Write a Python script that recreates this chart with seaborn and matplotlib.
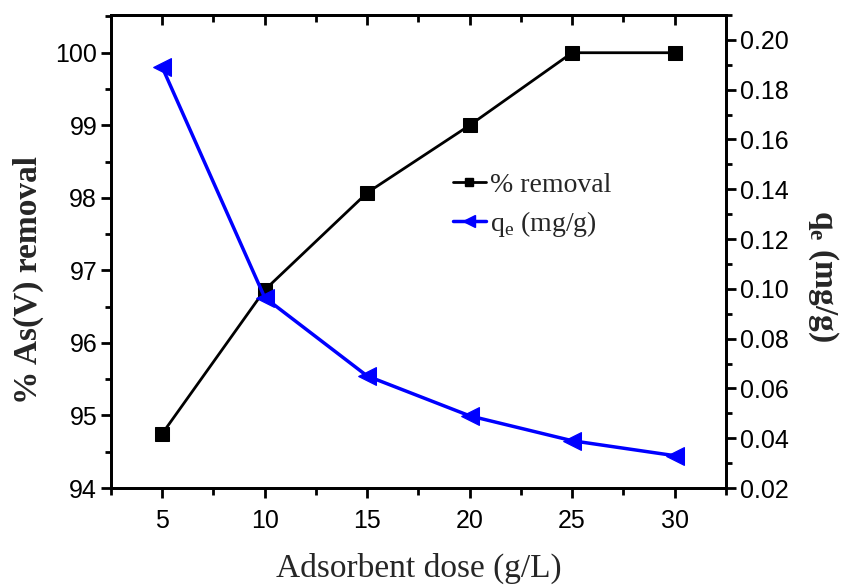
import numpy as np
import pandas as pd
import matplotlib
matplotlib.use("Agg")
import matplotlib.pyplot as plt
from matplotlib.ticker import MultipleLocator
from matplotlib.lines import Line2D
import seaborn as sns

# Adsorbent dose study data
dose = [5, 10, 15, 20, 25, 30]
removal = [94.75, 96.73, 98.07, 99.0, 100.0, 100.0]
qe = [0.189, 0.0965, 0.065, 0.049, 0.039, 0.033]

x_ticks = [5, 10, 15, 20, 25, 30]
left_ticks = [94, 95, 96, 97, 98, 99, 100]
right_ticks = [0.02, 0.04, 0.06, 0.08, 0.10, 0.12, 0.14, 0.16, 0.18, 0.20]

df = pd.DataFrame({"dose": dose, "removal": removal, "qe": qe})

sns.set_theme(style="ticks")
plt.rcParams["font.family"] = ["Liberation Sans", "DejaVu Sans"]

fig = plt.figure(figsize=(8.43, 5.86), dpi=100)
ax = fig.add_axes([0.1317, 0.1672, 0.7293, 0.8072])
ax2 = ax.twinx()

sns.lineplot(data=df, x="dose", y="removal", ax=ax, color="black", marker="s",
             markersize=10.5, markeredgecolor="black", linewidth=2, legend=False)
sns.lineplot(data=df, x="dose", y="qe", ax=ax2, color="#0000ff", marker="<",
             markersize=13, markeredgecolor="#0000ff", linewidth=2.5, legend=False)

ax.set_xlim(2.5, 32.5)
ax.set_ylim(94, 100.52)
ax2.set_ylim(0.02, 0.21)

ax.set_xticks(x_ticks)
ax.set_yticks(left_ticks)
ax2.set_yticks(right_ticks)
ax.set_yticklabels([str(v) for v in left_ticks])
ax2.set_yticklabels([f"{v:.2f}" for v in right_ticks])
ax.xaxis.set_minor_locator(MultipleLocator(2.5))
ax.yaxis.set_minor_locator(MultipleLocator(0.5))
ax2.yaxis.set_minor_locator(MultipleLocator(0.01))

for a in (ax, ax2):
    for s in a.spines.values():
        s.set_linewidth(2)
        s.set_color("black")

ax.tick_params(axis="x", which="both", direction="out", top=False, bottom=True,
               labelsize=18, width=2, colors="black", pad=8)
ax.tick_params(axis="x", which="major", length=7)
ax.tick_params(axis="x", which="minor", length=5)
for a in (ax, ax2):
    a.tick_params(axis="y", which="both", direction="out", labelsize=18,
                  width=2, colors="black", pad=3)
    a.tick_params(axis="y", which="major", length=7)
    a.tick_params(axis="y", which="minor", length=4)

# mirrored top axis with ticks pointing into the plot
top = ax.secondary_xaxis("top")
top.set_xticks(x_ticks)
top.xaxis.set_minor_locator(MultipleLocator(2.5))
top.tick_params(axis="x", which="both", direction="in", width=2,
                labeltop=False, colors="black")
top.tick_params(axis="x", which="major", length=7)
top.tick_params(axis="x", which="minor", length=5)
top.spines["top"].set_linewidth(2)

ax.set_xlabel("Adsorbent dose (g/L)", fontsize=24, family="Liberation Serif",
              labelpad=14)
ax.set_ylabel("% As(V) removal", fontsize=24, family="Liberation Serif",
              fontweight="bold", va="center")
ax.yaxis.set_label_coords(-0.135, 0.44)
ax2.set_ylabel("q$_\\mathregular{e}$ (mg/g)", fontsize=24, family="Liberation Serif",
               fontweight="bold", rotation=-90, va="center")
ax2.yaxis.set_label_coords(1.158, 0.448)

handles = [
    Line2D([], [], color="black", marker="s", markersize=6, linewidth=2),
    Line2D([], [], color="#0000ff", marker="<", markersize=8, linewidth=2.5),
]
ax2.legend(handles, ["% removal", "q$_\\mathregular{e}$ (mg/g)"], frameon=False,
           loc="upper left", bbox_to_anchor=(0.515, 0.72), handlelength=1.2,
           handletextpad=0.15, labelspacing=0.4,
           prop={"family": "Liberation Serif", "size": 20})

fig.savefig("out.png", dpi=100)
